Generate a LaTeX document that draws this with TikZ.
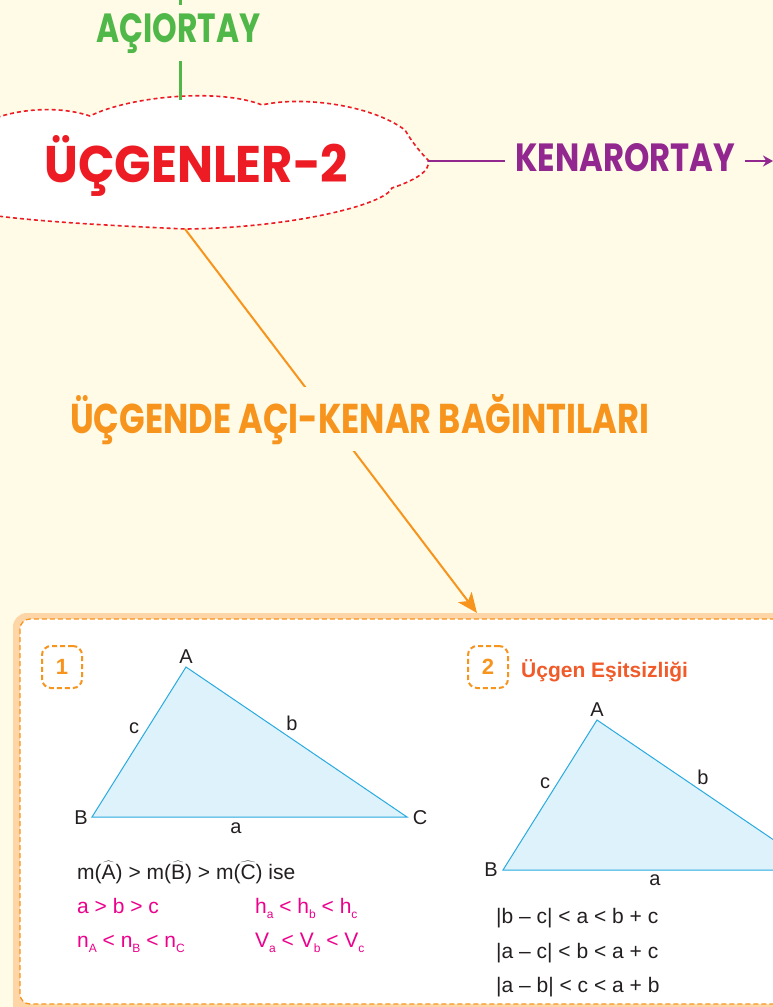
\documentclass[tikz,border=0pt]{standalone}
\usepackage{graphicx}
\usepackage{fontspec}
\setmainfont{Liberation Sans}
\newfontfamily\headfont{Poppins}
\usetikzlibrary{arrows.meta}
\definecolor{bgc}{HTML}{FFFBE6}
\definecolor{gcol}{HTML}{50B848}
\definecolor{rcol}{HTML}{ED1C24}
\definecolor{pcol}{HTML}{92278F}
\definecolor{ocol}{HTML}{F7941D}
\definecolor{band}{HTML}{FDD5A6}
\definecolor{trifill}{HTML}{DDF2FA}
\definecolor{tristroke}{HTML}{29ABE2}
\definecolor{mcol}{HTML}{EC008C}
\definecolor{dcol}{HTML}{231F20}
\definecolor{tcol}{HTML}{F15A29}
\newcommand\sbx[1]{\raisebox{-5.5pt}{\fontsize{12}{12}\selectfont #1}}
\newcommand\hatx[1]{$\widehat{\mbox{#1}}$}
\tikzset{
  head/.style={inner sep=0pt, anchor=base west, font=\headfont\bfseries},
  tri/.style={fill=trifill, draw=tristroke, line width=1pt, line join=miter},
  lbl/.style={inner sep=0pt, text=dcol, font=\fontsize{20}{20}\selectfont},
  txt/.style={inner sep=0pt, anchor=base west, font=\fontsize{21}{24}\selectfont},
  badge/.style={draw=ocol, dashed, dash pattern=on 5pt off 3pt, line width=2pt, rounded corners=9pt,
     minimum width=40pt, minimum height=42pt, text=ocol, font=\fontsize{22}{22}\selectfont\bfseries}
}
\begin{document}
\begin{tikzpicture}[x=1pt,y=-1pt]
\useasboundingbox (0,0) rectangle (773,1007);
\clip (0,0) rectangle (773,1007);
\fill[bgc] (0,0) rectangle (773,1007);

% content box
\fill[band, rounded corners=14pt] (13,613) rectangle (830,1030);
\filldraw[fill=white, draw=ocol, dash pattern=on 5pt off 3pt, line width=1.3pt, rounded corners=10pt] (20,619) rectangle (820,1004);

% cloud
\filldraw[fill=white, draw=rcol, line width=1.6pt, dash pattern=on 4pt off 3pt]
  (-10,120) .. controls (20,108) and (60,106) .. (90,116)
  .. controls (130,96) and (220,88) .. (262,105)
  .. controls (300,96) and (370,104) .. (405,130)
  .. controls (412,142) and (420,152) .. (428,160)
  .. controls (432,172) and (410,182) .. (392,188)
  .. controls (385,205) and (290,228) .. (185,229)
  .. controls (120,226) and (40,222) .. (-10,215) -- cycle;
\coordinate (ctop) at (180,100);
\coordinate (cright) at (428,161);
\coordinate (cbot) at (185,229);
\coordinate (gtop) at (180,-5);
\coordinate (boxtop) at (477,613);
\coordinate (parrow) at (773,161);

\node[head, text=rcol] (title) at (44,182) {\resizebox{304pt}{47pt}{ÜÇGENLER-2}};

% green
\node[head, text=gcol, inner ysep=8pt] (aci) at (96,42) {\resizebox{164pt}{29pt}{AÇIORTAY}};
\draw[gcol, line width=3pt] (ctop) -- (aci.south -| ctop);
\draw[gcol, line width=3pt] (aci.north -| gtop) -- (gtop);

% purple
\node[head, text=pcol, inner xsep=10pt] (kenar) at (505,171) {\resizebox{220pt}{28pt}{KENARORTAY}};
\draw[pcol, line width=2.5pt] (cright) -- (kenar.west |- cright);
\draw[pcol, line width=2.5pt, -{Stealth[length=10pt,width=11pt]}] (kenar.east |- cright) -- (parrow);

% orange
\draw[ocol, line width=2pt, -{Stealth[length=20pt,width=17pt,inset=5pt]}] (cbot) -- (boxtop);
\node[head, text=ocol, fill=bgc, inner ysep=7pt, inner xsep=4pt] (aks) at (66,433) {\resizebox{579pt}{39pt}{ÜÇGENDE AÇI-KENAR BAĞINTILARI}};

% section 1
\node[badge] (n1) at (62,667) {1};
\coordinate (A1) at (186,667);
\coordinate (B1) at (92,817);
\coordinate (C1) at (407,817);
\filldraw[tri] (A1) -- (B1) -- (C1) -- cycle;
\node[lbl] (lA1) at (186,657) {A};
\node[lbl] (lc1) at (134,728) {c};
\node[lbl] (lb1) at (292,723) {b};
\node[lbl] (lB1) at (81,818) {B};
\node[lbl] (la1) at (236,828) {a};
\node[lbl] (lC1) at (420,818) {C};

\node[txt, text=dcol] (t1) at (77,879) {m(\hatx{A}) > m(\hatx{B}) > m(\hatx{C}) ise};
\node[txt, text=mcol] (t2) at (77,913) {a > b > c};
\node[txt, text=mcol] (t3) at (255,913) {h\sbx{a} < h\sbx{b} < h\sbx{c}};
\node[txt, text=mcol] (t4) at (77,947) {n\sbx{A} < n\sbx{B} < n\sbx{C}};
\node[txt, text=mcol] (t5) at (255,947) {V\sbx{a} < V\sbx{b} < V\sbx{c}};

% section 2
\node[badge] (n2) at (488,667) {2};
\node[inner sep=0pt, anchor=base west, text=tcol, font=\fontsize{21}{21}\selectfont\bfseries] (h2) at (521,677) {Üçgen Eşitsizliği};
\coordinate (A2) at (597,720);
\coordinate (B2) at (503,870);
\coordinate (C2) at (818,870);
\filldraw[tri] (A2) -- (B2) -- (C2) -- cycle;
\node[lbl] (lA2) at (597,710) {A};
\node[lbl] (lc2) at (545,783) {c};
\node[lbl] (lb2) at (703,777) {b};
\node[lbl] (lB2) at (491,870) {B};
\node[lbl] (la2) at (655,880) {a};

\node[txt, text=dcol] (s1) at (496,923) {|b – c| < a < b + c};
\node[txt, text=dcol] (s2) at (496,958) {|a – c| < b < a + c};
\node[txt, text=dcol] (s3) at (496,992) {|a – b| < c < a + b};
\end{tikzpicture}
\end{document}
